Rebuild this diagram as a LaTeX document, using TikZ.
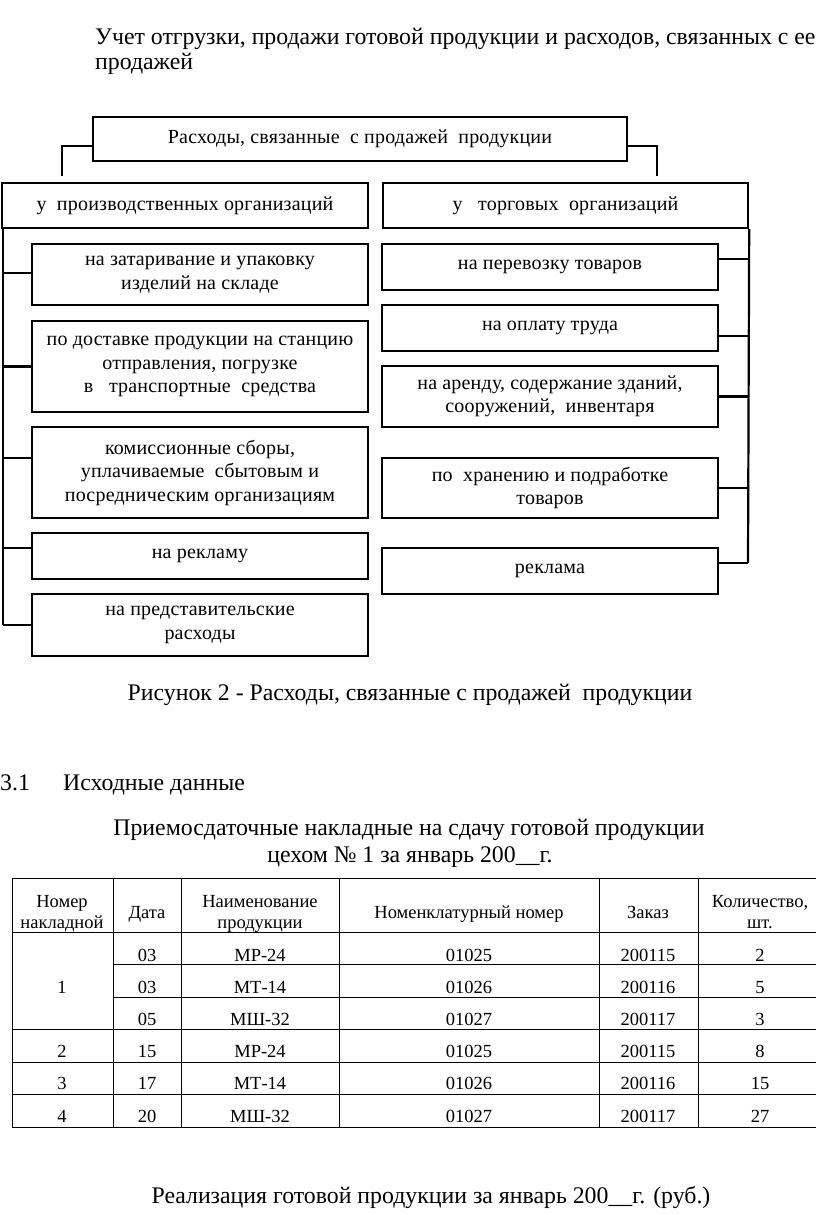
\documentclass[tikz,border=0pt]{standalone}
\usepackage{fontspec}
\setmainfont{Liberation Serif}
\newfontfamily\boxfont[LetterSpace=1]{Liberation Serif}
\begin{document}
\begin{tikzpicture}[x=1pt,y=-1pt,
  bx/.style={draw, line width=2.4pt, inner sep=0pt, align=center,
    font=\boxfont\fontsize{20}{23.5}\selectfont},
  lbox/.style={bx, minimum width=336pt},
  ln/.style={line width=2.2pt},
  bigtxt/.style={inner sep=0pt, font=\fontsize{23.8}{25}\selectfont},
  tl/.style={line width=1pt},
  tc/.style={inner sep=0pt, anchor=base, font=\fontsize{18.5}{20.5}\selectfont},
  th/.style={inner sep=0pt, align=center, anchor=base, font=\fontsize{18.5}{20.5}\selectfont}
]
\useasboundingbox (0,0) rectangle (816,1215);

% title
\node[bigtxt, anchor=base west] (t1) at (95,45) {Учет отгрузки, продажи готовой продукции и расходов, связанных с ее};
\node[bigtxt, anchor=base west] (t2) at (95,70) {продажей};

% diagram
\node[bx, minimum width=534pt, minimum height=44pt] (top) at (360,139) {Расходы, связанные\ \ с продажей\ \ продукции};
\node[bx, minimum width=366pt, minimum height=45pt] (lrow) at (185,205.5) {у\ \ производственных организаций};
\node[bx, minimum width=365pt, minimum height=45pt] (rrow) at (565.5,205.5) {у\ \ \ торговых\ \ организаций};

\node[lbox, minimum height=61pt] (l1) at (200,274.5) {на затаривание и упаковку\\изделий на складе};
\node[lbox, minimum height=91pt] (l2) at (200,366.5) {по доставке продукции на станцию\\отправления, погрузке\\в\ \ \ транспортные\ \ средства};
\node[lbox, minimum height=91pt] (l3) at (200,472.5) {комиссионные сборы,\\уплачиваемые\ \ сбытовым и\\посредническим организациям};
\node[lbox, minimum height=46pt] (l4) at (200,556) {на рекламу};
\node[lbox, minimum height=62pt] (l5) at (200,625) {на представительские\\расходы};

\node[lbox, minimum height=46pt] (r1) at (550,267) {на перевозку товаров};
\node[lbox, minimum height=46pt] (r2) at (550,328) {на оплату труда};
\node[lbox, minimum height=61pt] (r3) at (550,396.5) {на аренду, содержание зданий,\\сооружений,\ \ инвентаря};
\node[lbox, minimum height=60pt] (r4) at (550,488) {по\ \ хранению и подработке\\товаров};
\node[lbox, minimum height=46pt] (r5) at (550,571) {реклама};

% connectors from top box
\coordinate (hy) at (0,146);
\coordinate (cl) at (62,176);
\coordinate (cr) at (657,176);
\draw[ln] (top.west |- hy) -| (cl);
\draw[ln] (top.east |- hy) -| (cr);

% left bus
\coordinate (lbus) at (3,625);
\draw[ln] (lrow.south west -| lbus) -- (lbus);
\draw[ln] ([yshift=1.5pt]l1.west) -- ([yshift=1.5pt]l1.west -| lbus);
\draw[ln] (l2.west) -- (l2.west -| lbus);
\draw[ln] ([yshift=14.5pt]l3.west) -- ([yshift=14.5pt]l3.west -| lbus);
\draw[ln] ([yshift=8pt]l4.west) -- ([yshift=8pt]l4.west -| lbus);
\draw[ln] (l5.west) -- (lbus);

% right bus
\coordinate (rbus) at (748,563);
\draw[ln] (rrow.south east) -- (rbus);
\draw[ln] ([yshift=8pt]r1.east) -- ([yshift=8pt]r1.east -| rbus);
\draw[ln] ([yshift=-8pt]r2.east) -- ([yshift=-8pt]r2.east -| rbus);
\draw[ln] (r3.east) -- (r3.east -| rbus);
\draw[ln] (r4.east) -- (r4.east -| rbus);
\draw[ln] ([yshift=8pt]r5.east) -- (rbus);

% caption and headings
\node[bigtxt, anchor=base] (cap) at (410,700) {Рисунок 2 - Расходы, связанные с продажей\ \ продукции};
\node[bigtxt, anchor=base west] (s31) at (0,790) {3.1};
\node[bigtxt, anchor=base west] (s31t) at (63,790) {Исходные данные};
\node[bigtxt, anchor=base] (h1) at (409,835) {Приемосдаточные накладные на сдачу готовой продукции};
\node[bigtxt, anchor=base] (h2) at (410,862) {цехом № 1 за январь 200\_\_г.};
\node[bigtxt, anchor=base] (h3) at (431,1203) {Реализация готовой продукции за январь 200\_\_г. (руб.)};

% table grid
\foreach \yy in {878,932,1029,1062,1094,1127} \draw[tl] (12,\yy) -- (816,\yy);
\foreach \yy in {964,997} \draw[tl] (113,\yy) -- (816,\yy);
\foreach \xx in {12,113,181,339,599,698} \draw[tl] (\xx,878) -- (\xx,1127);

% header
\node[th] (hA) at (62,928) {Номер\\накладной};
\node[th] (hB) at (147,918) {Дата};
\node[th] (hC) at (260,928) {Наименование\\продукции};
\node[th] (hD) at (469,918) {Номенклатурный номер};
\node[th] (hE) at (648,918) {Заказ};
\node[th] (hF) at (760,928) {Количество,\\шт.};

% rows
\node[tc] (c1) at (62,993) {1};
\node[tc] (c2) at (62,1057) {2};
\node[tc] (c3) at (62,1089) {3};
\node[tc] (c4) at (62,1122) {4};
\foreach \yy/\d/\n/\nn/\z/\q in {961/03/МР-24/01025/200115/2, 993/03/МТ-14/01026/200116/5, 1025/05/МШ-32/01027/200117/3, 1057/15/МР-24/01025/200115/8, 1089/17/МТ-14/01026/200116/15, 1122/20/МШ-32/01027/200117/27}{
  \node[tc] at (147,\yy) {\d};
  \node[tc] at (260,\yy) {\n};
  \node[tc] at (469,\yy) {\nn};
  \node[tc] at (648,\yy) {\z};
  \node[tc] at (760,\yy) {\q};
}
\end{tikzpicture}
\end{document}
